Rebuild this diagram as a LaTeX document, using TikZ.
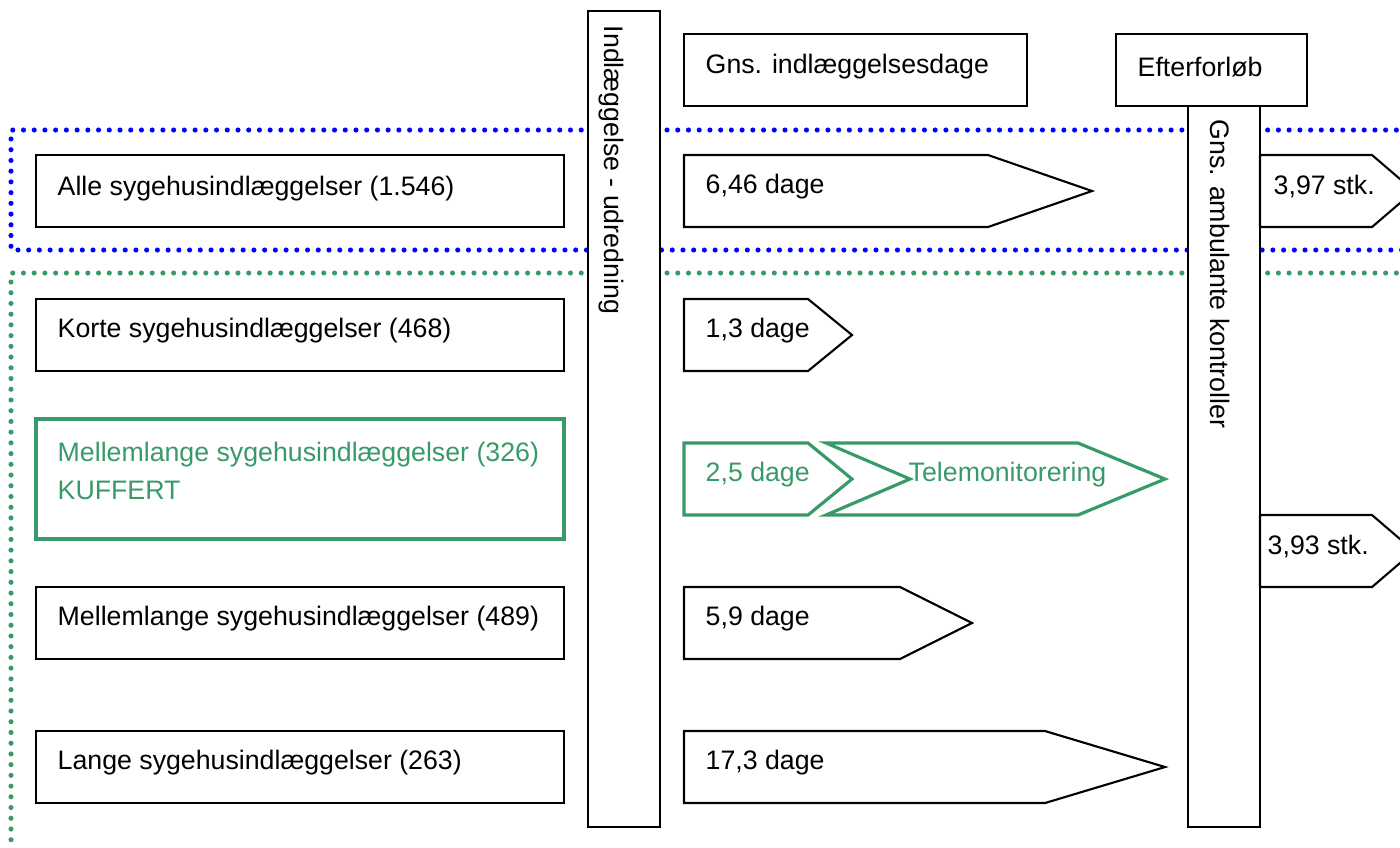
\documentclass[tikz,border=0pt]{standalone}
\usepackage{fontspec}
\setmainfont{Liberation Sans}
\usepackage{xcolor}
\usetikzlibrary{positioning}
\definecolor{dotblue}{RGB}{0,0,255}
\definecolor{kuffert}{RGB}{56,154,104}

\begin{document}
\begin{tikzpicture}[x=0.01cm, y=-0.01cm,
  box/.style={draw, line width=0.6pt, fill=white},
  greenbox/.style={draw=kuffert, line width=0.9pt, fill=white},
  lbl/.style={anchor=west, inner sep=0pt, font=\fontsize{7.6}{10.8}\selectfont},
  vlbl/.style={anchor=base west, inner sep=0pt, rotate=-90, font=\fontsize{7.6}{10.8}\selectfont},
  dotline/.style={line width=1.45pt, line cap=round, dash pattern=on 0pt off 3.05pt}]
  \useasboundingbox (0,0) rectangle (1400,847);
  \clip (0,0) rectangle (1400,847);

  % grupperinger
  \draw[dotline, dotblue] (1450,130) -- (11,130) -- (11,250) -- (1450,250);
  \draw[dotline, kuffert] (1450,273) -- (11,273) -- (11,900);

  % faser
  \draw[box] (588,11) rectangle (660,827);
  \node[vlbl] (udred) at (604,25) {Indlæggelse - udredning};
  \draw[box] (684,34) rectangle (1027,106);
  \node[lbl] (gnsdage) at (705,67) {Gns. indlæggelsesdage};
  \draw[box] (1116,34) rectangle (1307,106);
  \node[lbl] (efter) at (1137,67) {Efterforløb};
  \draw[box] (1188,106) rectangle (1260,827);
  \node[vlbl] (ambkon) at (1210,119) {Gns. ambulante kontroller};

  % patientgrupper
  \draw[box] (36,155) rectangle (564,227);
  \node[lbl] (alle) at (57,189) {Alle sygehusindlæggelser (1.546)};
  \draw[box] (36,299) rectangle (564,371);
  \node[lbl] (korte) at (57,331) {Korte sygehusindlæggelser (468)};
  \draw[greenbox] (36,419) rectangle (564,539);
  \node[lbl, kuffert, align=left] (kuf) at (57,471) {Mellemlange sygehusindlæggelser (326)\\KUFFERT};
  \draw[box] (36,587) rectangle (564,659);
  \node[lbl] (mellem) at (57,619) {Mellemlange sygehusindlæggelser (489)};
  \draw[box] (36,731) rectangle (564,803);
  \node[lbl] (lange) at (57,763) {Lange sygehusindlæggelser (263)};

  % indlaeggelsesdage
  \draw[box] (684,155) -- (988,155) -- (1092,191) -- (988,227) -- (684,227) -- cycle;
  \node[lbl] (d646) at (705,187) {6,46 dage};
  \draw[box] (684,299) -- (808,299) -- (852,335) -- (808,371) -- (684,371) -- cycle;
  \node[lbl] (d13) at (705,331) {1,3 dage};
  \draw[greenbox] (684,443) -- (808,443) -- (852,479) -- (808,515) -- (684,515) -- cycle;
  \node[lbl, kuffert] (d25) at (705,475) {2,5 dage};
  \draw[greenbox, fill=none] (826,443) -- (1078,443) -- (1165,479) -- (1078,515) -- (826,515) -- (910,479) -- cycle;
  \node[lbl, kuffert] (tele) at (908,475) {Telemonitorering};
  \draw[box] (684,587) -- (900,587) -- (972,623) -- (900,659) -- (684,659) -- cycle;
  \node[lbl] (d59) at (705,619) {5,9 dage};
  \draw[box] (684,731) -- (1045,731) -- (1165,767) -- (1045,803) -- (684,803) -- cycle;
  \node[lbl] (d173) at (705,763) {17,3 dage};

  % ambulante kontroller
  \draw[box] (1260,155) -- (1372,155) -- (1414,191) -- (1372,227) -- (1260,227) -- cycle;
  \node[lbl] (s397) at (1273,187) {3,97 stk.};
  \draw[box] (1260,515) -- (1372,515) -- (1414,551) -- (1372,587) -- (1260,587) -- cycle;
  \node[lbl] (s393) at (1267,547) {3,93 stk.};
\end{tikzpicture}
\end{document}
